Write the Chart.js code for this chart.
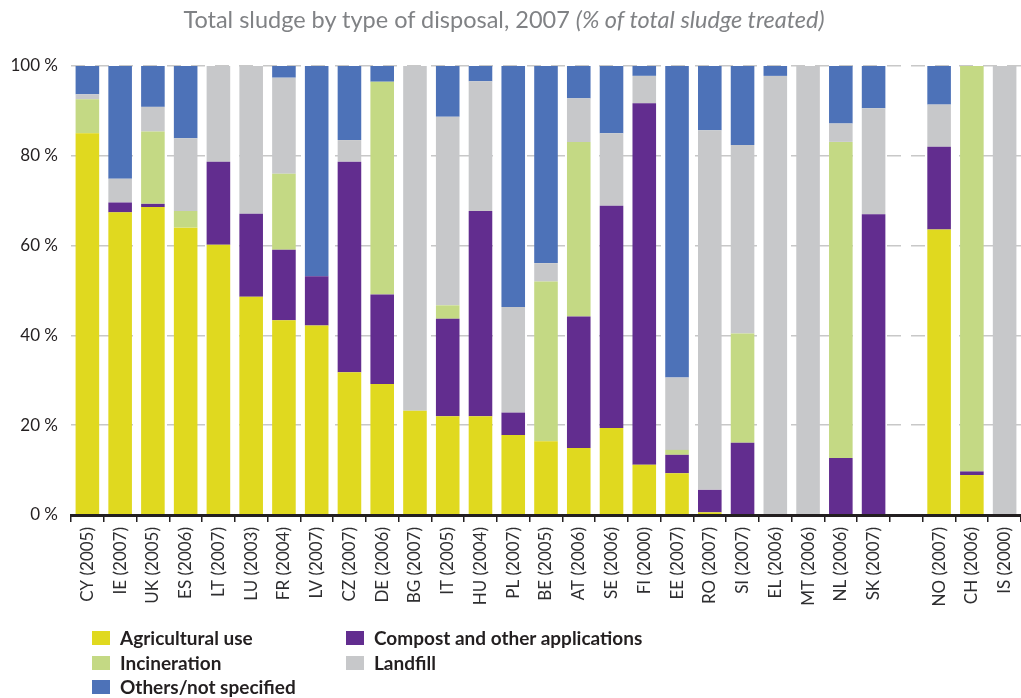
<!DOCTYPE html>
<html>
<head>
<meta charset="utf-8">
<script src="https://cdn.jsdelivr.net/npm/chart.js@4/dist/chart.umd.min.js"></script>
<style>
    body { margin: 0; background: #fff; }
    #wrap { position: relative; width: 1021px; height: 698px; overflow: hidden; }
    #title {
        position: absolute; left: 0; top: 5px; width: 1008px; text-align: center;
        font-family: Lato, sans-serif; font-size: 23.5px; color: #808285; white-space: nowrap;
    }
    #legend { position: absolute; left: 0; top: 0; font-family: Lato, sans-serif; font-weight: bold; font-size: 19px; color: #231f20; }
    .legend-item { position: absolute; white-space: nowrap; line-height: 22px; }
    .legend-box { position: absolute; left: 0; top: 4px; width: 18px; height: 14px; }
    .legend-text { position: absolute; left: 28px; top: 0; }
    canvas { position: absolute; left: 0; top: 0; }
</style>
</head>
<body>
<div id="wrap">
    <canvas id="sludgeChart" width="1021" height="698"></canvas>
    <div id="title">Total sludge by type of disposal, 2007 <i>(% of total sludge treated)</i></div>
    <div id="legend"></div>
</div>
<script>
const categories = ['CY (2005)', 'IE (2007)', 'UK (2005)', 'ES (2006)', 'LT (2007)', 'LU (2003)', 'FR (2004)',
    'LV (2007)', 'CZ (2007)', 'DE (2006)', 'BG (2007)', 'IT (2005)', 'HU (2004)', 'PL (2007)', 'BE (2005)',
    'AT (2006)', 'SE (2006)', 'FI (2000)', 'EE (2007)', 'RO (2007)', 'SI (2007)', 'EL (2006)', 'MT (2006)',
    'NL (2006)', 'SK (2007)', '', 'NO (2007)', 'CH (2006)', 'IS (2000)'];

const agricultural = [85.0, 67.4, 68.6, 64.0, 60.2, 48.6, 43.4, 42.2, 31.8, 29.2, 23.2, 22.0, 22.0, 17.8, 16.4,
    14.9, 19.4, 11.2, 9.3, 0.6, 0, 0, 0, 0, 0, null, 63.6, 8.9, 0];
const compost = [0, 2.2, 0.7, 0, 18.5, 18.5, 15.7, 11.0, 46.9, 19.9, 0, 21.7, 45.7, 5.0, 0,
    29.3, 49.5, 80.5, 4.1, 5.0, 16.1, 0, 0, 12.7, 67.0, null, 18.4, 0.8, 0];
const incineration = [7.6, 0, 16.1, 3.7, 0, 0, 16.9, 0, 0, 47.4, 0, 3.0, 0, 0, 35.6,
    38.9, 0, 0, 1.1, 0, 24.3, 0, 0, 70.4, 0, null, 0, 90.3, 0];
const landfill = [1.1, 5.3, 5.5, 16.2, 21.3, 32.9, 21.4, 0, 4.8, 0, 76.8, 42.0, 28.9, 23.5, 4.1,
    9.7, 16.1, 6.1, 16.1, 80.1, 42.0, 97.8, 100, 4.1, 23.6, null, 9.4, 0, 100];
const others = [6.3, 25.1, 9.1, 16.1, 0, 0, 2.6, 46.8, 16.5, 3.5, 0, 11.3, 3.4, 53.7, 43.9,
    7.2, 15.0, 2.2, 69.4, 14.3, 17.6, 2.2, 0, 12.8, 9.4, null, 8.6, 0, 0];

const seriesNames = ['Agricultural use', 'Compost and other applications', 'Incineration', 'Landfill', 'Others/not specified'];
const seriesColors = ['#e0d91f', '#622d8f', '#c4d984', '#c7c8ca', '#4d72b8'];
const yTicks = [0, 20, 40, 60, 80, 100];

// legend is laid out in two columns, like the original
const legendOrder = [0, 2, 4, 1, 3];

const font = 'Lato, sans-serif';

function buildLegend() {
    const legend = document.getElementById('legend');
    legendOrder.forEach((s, i) => {
        const col = i < 3 ? 0 : 1;
        const row = i < 3 ? i : i - 3;
        const item = document.createElement('div');
        item.className = 'legend-item';
        item.style.left = (col === 0 ? 92 : 346) + 'px';
        item.style.top = (627 + row * 24.5) + 'px';
        item.innerHTML = `<span class="legend-box" style="background:${seriesColors[s]}"></span>` +
            `<span class="legend-text">${seriesNames[s]}</span>`;
        legend.appendChild(item);
    });
}

function drawChart() {
    const seriesData = [agricultural, compost, incineration, landfill, others];
    const datasets = seriesData.map((d, i) => ({
        label: seriesNames[i],
        data: d,
        backgroundColor: seriesColors[i],
        borderWidth: 0,
        categoryPercentage: 1,
        barPercentage: 0.72
    }));

    new Chart(document.getElementById('sludgeChart'), {
        type: 'bar',
        data: { labels: categories, datasets },
        options: {
            responsive: false,
            animation: false,
            layout: { padding: { top: 66, left: 0, right: 0, bottom: 0 } },
            plugins: { legend: { display: false }, tooltip: { enabled: false } },
            scales: {
                x: {
                    stacked: true,
                    afterFit: s => { s.height = 183; s.paddingLeft = 0; s.paddingRight = 0; },
                    grid: { drawOnChartArea: false, drawTicks: true, tickLength: 7, color: '#231f20', lineWidth: 1.5 },
                    border: { display: true, color: '#231f20', width: 3, z: 1 },
                    ticks: {
                        autoSkip: false, minRotation: 90, maxRotation: 90, padding: 5,
                        color: '#2e2e30', font: { family: font, size: 17 }
                    }
                },
                y: {
                    stacked: true,
                    min: 0,
                    max: 100,
                    afterFit: s => { s.width = 71; },
                    afterBuildTicks: s => { s.ticks = yTicks.map(v => ({ value: v })); },
                    grid: { drawTicks: false, color: '#c8c8c8', lineWidth: 1.5 },
                    border: { display: false, dash: [14, 10] },
                    ticks: {
                        padding: 13, color: '#231f20', font: { family: font, size: 17 },
                        callback: v => v + ' %'
                    }
                }
            }
        }
    });
}

document.addEventListener('DOMContentLoaded', () => {
    buildLegend();
    drawChart();
});
</script>
</body>
</html>
